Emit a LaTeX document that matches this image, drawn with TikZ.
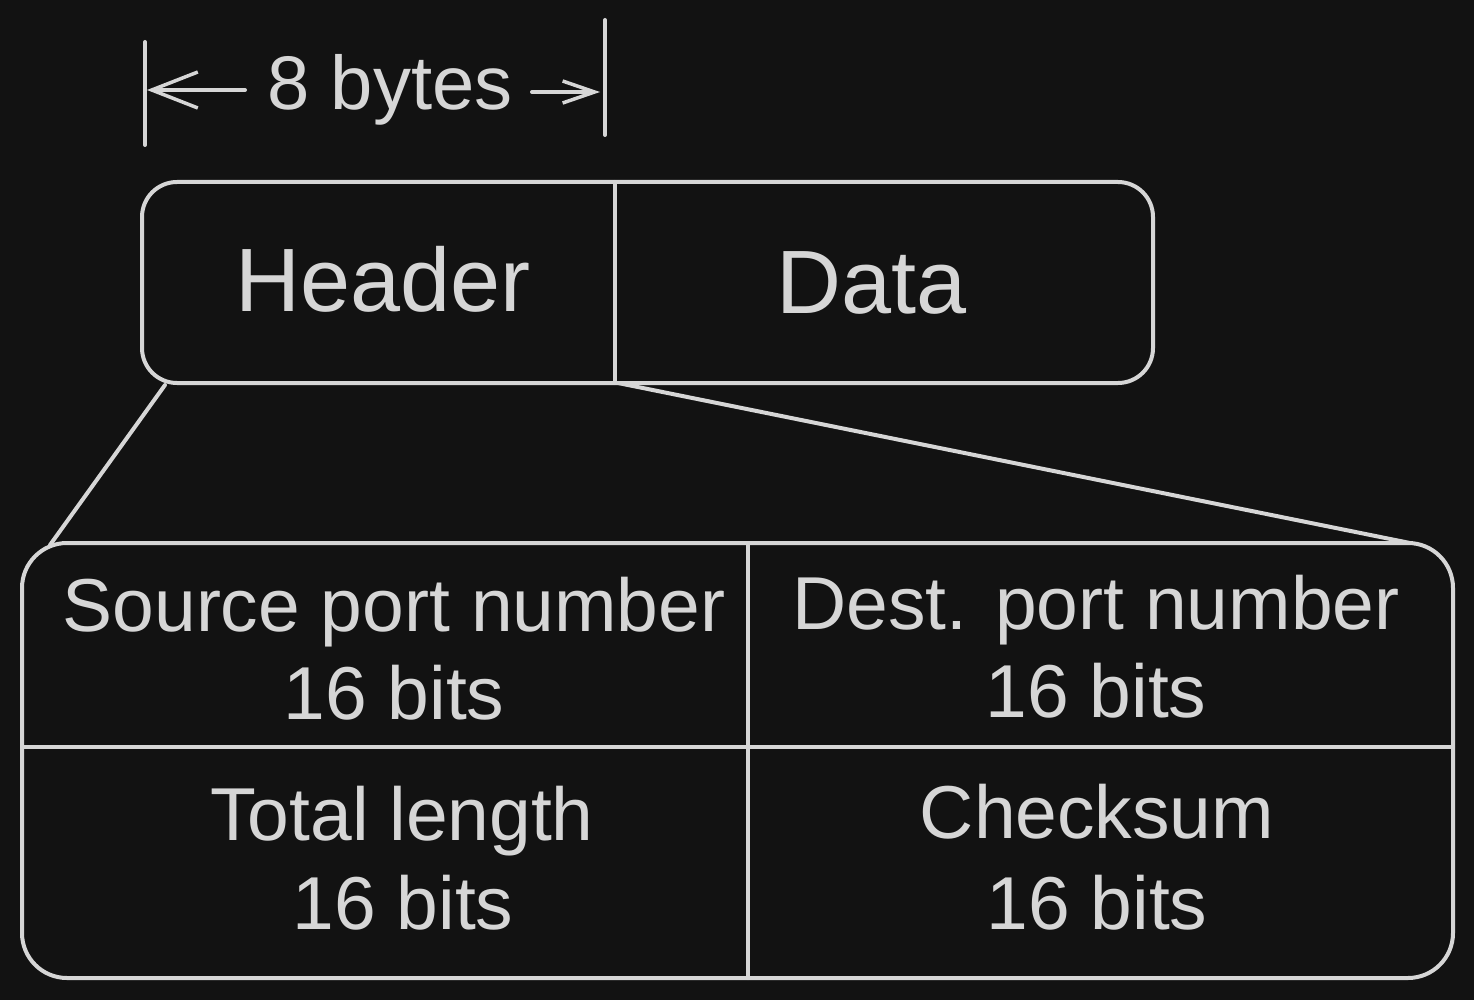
\documentclass[tikz,border=0pt]{standalone}
\usepackage{fontspec}
\setmainfont{Liberation Sans}
\usetikzlibrary{arrows.meta}
\definecolor{bg}{HTML}{121212}
\definecolor{ink}{HTML}{D6D6D6}
\begin{document}
\begin{tikzpicture}[x=1pt,y=-1pt,
  ln/.style={draw=ink,line width=4pt,line cap=round,line join=round},
  big/.style={text=ink,font=\fontsize{90}{96}\selectfont,anchor=base,inner sep=0pt},
  cell/.style={text=ink,font=\fontsize{75}{80}\selectfont,anchor=base,inner sep=0pt},
  dim/.style={text=ink,font=\fontsize{76}{80}\selectfont,anchor=base,inner sep=0pt}]
\fill[bg] (0,0) rectangle (1474,1000);
\useasboundingbox (0,0) rectangle (1474,1000);
% dimension marker
\coordinate (t1a) at (145,42); \coordinate (t1b) at (145,145);
\coordinate (t2a) at (605,20); \coordinate (t2b) at (605,135);
\draw[ln] (t1a) -- (t1b);
\draw[ln] (t2a) -- (t2b);
\node[dim] (bytes) at (390,110) {8 bytes};
\coordinate (la) at (245,90); \coordinate (lb) at (147,90);
\coordinate (ra) at (532,92); \coordinate (rb) at (600,92);
\draw[ln,-{Straight Barb[length=46pt,width=36pt,line width=3.5pt]}] (la) -- (lb);
\draw[ln,-{Straight Barb[length=32pt,width=22pt,line width=3.5pt]}] (ra) -- (rb);
% top box
\node[ln,rounded corners=35pt,minimum width=1011pt,minimum height=201pt,inner sep=0pt] (top) at (647.5,282.5) {};
\coordinate (d1) at (615,182); \coordinate (d2) at (615,383);
\draw[ln] (d1) -- (d2);
\node[big] (hdr) at (383,311) {Header};
\node[big] (data) at (872,313) {Data};
% bottom box
\node[ln,rounded corners=45pt,minimum width=1431pt,minimum height=435pt,inner sep=0pt] (bot) at (737.5,760.5) {};
\coordinate (h1) at (22,747); \coordinate (h2) at (1453,747);
\coordinate (v1) at (748,543); \coordinate (v2) at (748,978);
\draw[ln] (h1) -- (h2);
\draw[ln] (v1) -- (v2);
% zoom lines
\coordinate (zl1) at (165,385); \coordinate (zl2) at (50,545);
\coordinate (zr1) at (618,383); \coordinate (zr2) at (1410,543);
\draw[ln] (zl1) -- (zl2);
\draw[ln] (zr1) -- (zr2);
% cell texts
\node[cell] (src) at (394,631) {Source port number};
\node[cell] (srcb) at (394,719) {16 bits};
\node[cell] (dst) at (1096,629) {Dest. port number};
\node[cell] (dstb) at (1096,717) {16 bits};
\node[cell] (len) at (402,840) {Total length};
\node[cell] (lenb) at (403,929) {16 bits};
\node[cell] (chk) at (1097,838) {Checksum};
\node[cell] (chkb) at (1097,929) {16 bits};
\end{tikzpicture}
\end{document}
